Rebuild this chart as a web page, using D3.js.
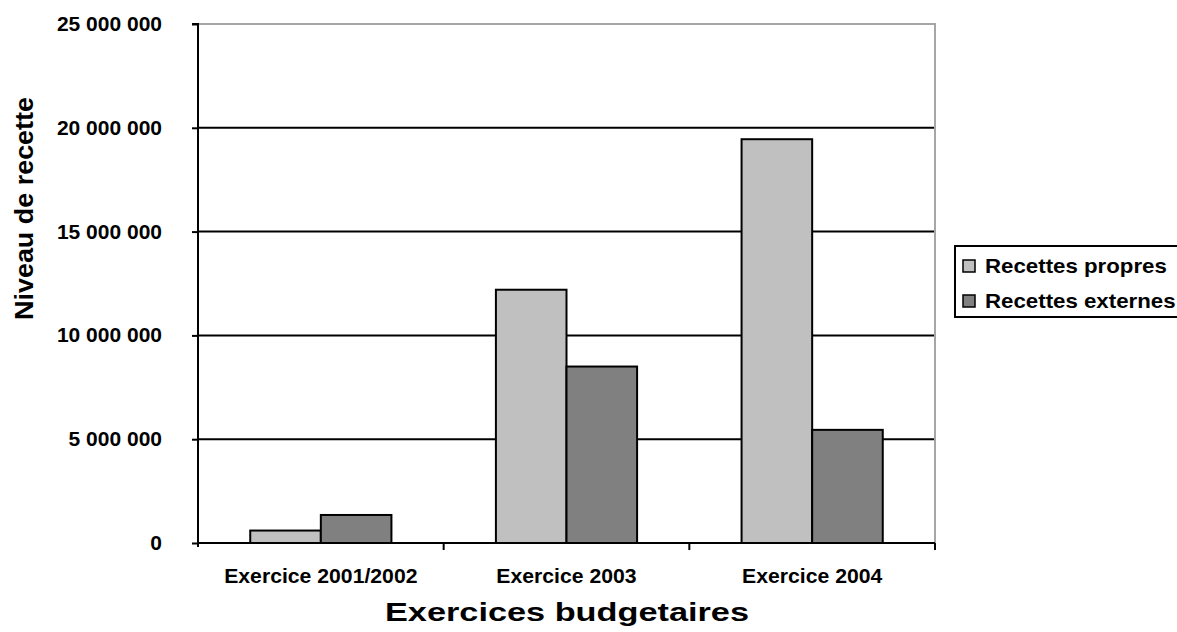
<!DOCTYPE html>
<html><head><meta charset="utf-8">
<script src="https://cdn.jsdelivr.net/npm/d3@7"></script>
<style>body{margin:0;background:#fff}svg{display:block;font-family:"Liberation Sans",Arial,sans-serif;font-weight:bold}</style>
</head><body><svg id="c" width="1177" height="632"></svg>
<script>
const categories = ["Exercice 2001/2002", "Exercice 2003", "Exercice 2004"];
const series = ["Recettes propres", "Recettes externes"];
const propres = [600000, 12200000, 19450000];
const externes = [1350000, 8500000, 5450000];
const yTicks = [0, 5000000, 10000000, 15000000, 20000000, 25000000];
const colors = ["#c0c0c0", "#808080"];

const svg = d3.select("#c");
const L = 198, R = 935, T = 24, B = 543;
const x = d3.scaleBand().domain(categories).range([L, R]).paddingInner(0).paddingOuter(0);
const y = d3.scaleLinear().domain([0, 25000000]).range([B, T]);
const fmt = v => d3.format(",")(v).replace(/,/g, " ");
const FF = "Liberation Sans, Arial, sans-serif";

// gridlines
svg.append("g").selectAll("line").data(yTicks.filter(v => v > 0 && v < 25000000)).join("line")
  .attr("x1", L).attr("x2", R).attr("y1", d => y(d)).attr("y2", d => y(d))
  .attr("stroke", "#000").attr("stroke-width", 2);
// plot border top/right gray
svg.append("path").attr("d", `M${L},${T}H${R}V${B}`).attr("fill", "none").attr("stroke", "#a6a6a6").attr("stroke-width", 2);

const data = categories.map((c, i) => ({c, vals: [propres[i], externes[i]]}));
const inner = d3.scaleBand().domain(series).range([0, x.bandwidth()]).paddingOuter(0.74).paddingInner(0);
svg.append("g").selectAll("g").data(data).join("g")
  .attr("transform", d => `translate(${x(d.c)},0)`)
  .selectAll("rect").data(d => d.vals.map((v, k) => ({v, k}))).join("rect")
  .attr("x", d => inner(series[d.k])).attr("width", inner.bandwidth())
  .attr("y", d => y(d.v)).attr("height", d => B - y(d.v))
  .attr("fill", d => colors[d.k]).attr("stroke", "#000").attr("stroke-width", 2);

// y axis
const ya = d3.axisLeft(y).tickValues(yTicks).tickFormat(fmt).tickSize(6).tickPadding(30);
const yg = svg.append("g").attr("transform", `translate(${L},0)`).call(ya);
yg.select(".domain").attr("stroke", "#000").attr("stroke-width", 2).attr("d", `M-6,${T}H0V${B + 4}`);
yg.selectAll(".tick line").attr("stroke", "#000").attr("stroke-width", 2);
yg.selectAll(".tick text").attr("font-size", 20).attr("font-weight", "bold").attr("font-family", FF).attr("fill", "#000")
  .each(function () { const w = this.getComputedTextLength(); d3.select(this).attr("textLength", w * 1.05).attr("lengthAdjust", "spacingAndGlyphs"); });

// x axis
const xg = svg.append("g").attr("transform", `translate(0,${B})`);
xg.append("line").attr("x1", L).attr("x2", R).attr("stroke", "#000").attr("stroke-width", 2);
xg.selectAll("line.t").data(categories.map(c => x(c) + x.bandwidth())).join("line").attr("class", "t")
  .attr("x1", d => d).attr("x2", d => d).attr("y1", 0).attr("y2", 7).attr("stroke", "#000").attr("stroke-width", 2);
xg.selectAll("text").data(categories).join("text")
  .attr("x", d => x(d) + x.bandwidth() / 2).attr("y", 40).attr("text-anchor", "middle")
  .attr("font-size", 20).text(d => d)
  .each(function () { const w = this.getComputedTextLength(); d3.select(this).attr("textLength", w * 1.06).attr("lengthAdjust", "spacingAndGlyphs"); });

// titles
svg.append("text").attr("x", 567).attr("y", 621).attr("text-anchor", "middle").attr("font-size", 25)
  .attr("textLength", 364).attr("lengthAdjust", "spacingAndGlyphs").text("Exercices budgetaires");
svg.append("text").attr("transform", "translate(33,208.5) rotate(-90)").attr("text-anchor", "middle").attr("font-size", 25)
  .attr("textLength", 223).attr("lengthAdjust", "spacingAndGlyphs").text("Niveau de recette");

// legend
const lg = svg.append("g");
lg.append("rect").attr("x", 955).attr("y", 246).attr("width", 240).attr("height", 71).attr("fill", "#fff").attr("stroke", "#000").attr("stroke-width", 2);
series.forEach((s, i) => {
  const yy = 273 + i * 35;
  lg.append("rect").attr("x", 963).attr("y", yy - 13).attr("width", 12).attr("height", 12).attr("fill", colors[i]).attr("stroke", "#000").attr("stroke-width", 1.5);
  lg.append("text").attr("x", 985).attr("y", yy).attr("font-size", 21).text(s)
    .each(function () { const w = this.getComputedTextLength(); d3.select(this).attr("textLength", w * 1.06).attr("lengthAdjust", "spacingAndGlyphs"); });
});
</script></body></html>
